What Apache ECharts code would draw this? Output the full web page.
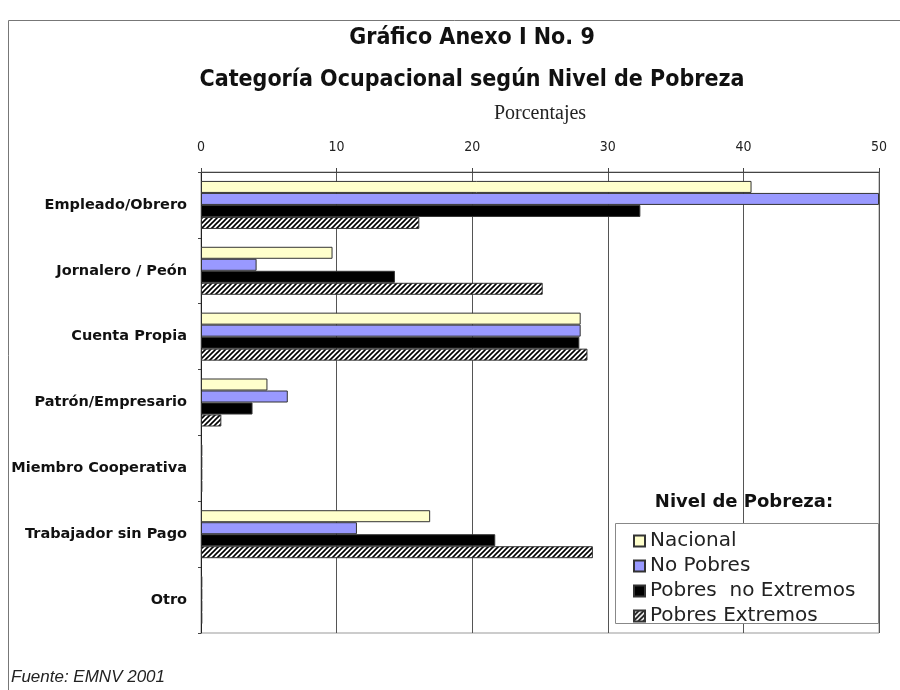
<!DOCTYPE html>
<html>
<head>
<meta charset="utf-8">
<script src="https://cdn.jsdelivr.net/npm/echarts@6/dist/echarts.min.js"></script>
<style>
  html, body { margin: 0; padding: 0; background: #fff; }
  #chart { width: 900px; height: 690px; }
</style>
</head>
<body>
<div id="chart"></div>
<script>
// categorias y porcentajes
const categories = ['Empleado/Obrero', 'Jornalero / Peón', 'Cuenta Propia', 'Patrón/Empresario',
  'Miembro Cooperativa', 'Trabajador sin Pago', 'Otro'];
const nacional = [40.6, 9.7, 28.0, 4.9, 0.1, 16.9, 0.1];
const noPobres = [50.0, 4.1, 28.0, 6.4, 0.1, 11.5, 0.1];
const pobresNoExtremos = [32.4, 14.3, 27.9, 3.8, 0.1, 21.7, 0.1];
const pobresExtremos = [16.1, 25.2, 28.5, 1.5, 0.1, 28.9, 0.1];
const seriesNames = ['Nacional', 'No Pobres', 'Pobres  no Extremos', 'Pobres Extremos'];

// rayado diagonal para "Pobres Extremos"
function hatch() {
  const c = document.createElement('canvas');
  c.width = 5; c.height = 5;
  const g = c.getContext('2d');
  g.fillStyle = '#fff';
  g.fillRect(0, 0, 5, 5);
  g.strokeStyle = '#000';
  g.lineWidth = 1.6;
  g.beginPath();
  g.moveTo(-1, 6); g.lineTo(6, -1);
  g.moveTo(-1, 1); g.lineTo(1, -1);
  g.moveTo(4, 6); g.lineTo(6, 4);
  g.stroke();
  return c;
}

const chart = echarts.init(document.getElementById('chart'));

const bar = (name, data, color) => ({
  name: name,
  type: 'bar',
  data: data,
  barWidth: 12,
  barGap: '0%',
  itemStyle: { color: color, borderColor: '#333', borderWidth: 1 }
});

const titleFont = 'bold 23px "DejaVu Sans Condensed", "DejaVu Sans"';

const option = {
  animation: false,
  grid: { left: 201, right: 21, top: 172, bottom: 57, show: true, borderColor: '#999', borderWidth: 1 },
  xAxis: {
    type: 'value',
    position: 'top',
    min: 0,
    max: 50,
    interval: 10,
    name: 'Porcentajes',
    nameLocation: 'middle',
    nameGap: 48,
    nameTextStyle: { fontFamily: 'Liberation Serif', fontSize: 20, color: '#222' },
    axisLine: { show: true, lineStyle: { color: '#444', width: 1 } },
    axisTick: { show: true, length: 4, lineStyle: { color: '#444' } },
    axisLabel: { margin: 18, fontFamily: 'DejaVu Sans Condensed', fontSize: 14, color: '#222' },
    splitLine: { show: true, lineStyle: { color: '#555', width: 1 } }
  },
  yAxis: {
    type: 'category',
    data: categories,
    inverse: true,
    axisLine: { show: true, lineStyle: { color: '#222', width: 1 } },
    axisTick: { show: true, length: 3, lineStyle: { color: '#444' } },
    axisLabel: { margin: 14, fontFamily: 'DejaVu Sans', fontWeight: 'bold', fontSize: 14.5, color: '#111' }
  },
  legend: {
    orient: 'vertical',
    left: 628,
    top: 526,
    itemGap: 5,
    itemWidth: 11,
    itemHeight: 11,
    icon: 'rect',
    z: 6,
    textStyle: { fontFamily: 'DejaVu Sans', fontSize: 20, color: '#222' },
    data: seriesNames
  },
  graphic: [
    { type: 'rect', silent: true, z: -1, shape: { x: 8.5, y: 20.5, width: 900, height: 700 },
      style: { fill: 'none', stroke: '#777', lineWidth: 1 } },
    { type: 'text', x: 472, y: 38, style: { text: 'Gráfico Anexo I No. 9', align: 'center', verticalAlign: 'middle',
      font: titleFont, fill: '#111' } },
    { type: 'text', x: 472, y: 80, style: { text: 'Categoría Ocupacional según Nivel de Pobreza', align: 'center', verticalAlign: 'middle',
      font: titleFont, fill: '#111' } },
    { type: 'rect', silent: true, z: 3, shape: { x: 615.5, y: 523.5, width: 263, height: 100 },
      style: { fill: '#fff', stroke: '#888', lineWidth: 1 } },
    { type: 'text', x: 744, y: 502, z: 3, style: { text: 'Nivel de Pobreza:', align: 'center', verticalAlign: 'middle',
      font: 'bold 18px "DejaVu Sans"', fill: '#111' } },
    { type: 'text', x: 11, y: 677, style: { text: 'Fuente: EMNV 2001', align: 'left', verticalAlign: 'middle',
      font: 'italic 17px "Liberation Sans"', fill: '#222' } }
  ],
  series: [
    bar(seriesNames[0], nacional, '#FFFFCC'),
    bar(seriesNames[1], noPobres, '#9999FF'),
    bar(seriesNames[2], pobresNoExtremos, '#000000'),
    bar(seriesNames[3], pobresExtremos, { image: hatch(), repeat: 'repeat' })
  ]
};

chart.setOption(option);
</script>
</body>
</html>
